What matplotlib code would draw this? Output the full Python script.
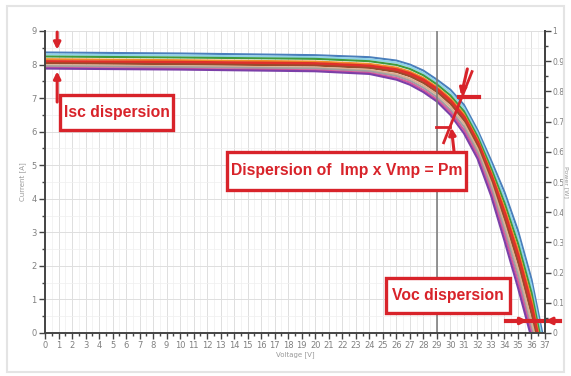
import matplotlib.pyplot as plt
import numpy as np
from matplotlib.ticker import MultipleLocator
from matplotlib.patches import Rectangle

# voltage grid (V) shared by all measured modules
volt = [0, 10, 20, 24, 26, 27, 28, 29, 30, 31, 32, 33, 34, 35, 36]

# current (A) of each module at the grid points
cur_blue   = [8.36, 8.33, 8.28, 8.22, 8.12, 8.00, 7.82, 7.55, 7.25, 6.80, 6.05, 5.15, 4.20, 3.05, 1.60]
cur_cyan   = [8.30, 8.27, 8.22, 8.16, 8.06, 7.94, 7.75, 7.48, 7.17, 6.71, 5.96, 5.03, 4.04, 2.86, 1.40]
cur_green  = [8.24, 8.21, 8.17, 8.10, 7.99, 7.87, 7.68, 7.41, 7.08, 6.61, 5.86, 4.92, 3.88, 2.67, 1.20]
cur_orange = [8.16, 8.13, 8.09, 8.02, 7.91, 7.79, 7.60, 7.33, 6.99, 6.52, 5.77, 4.80, 3.72, 2.48, 1.00]
cur_red    = [8.08, 8.06, 8.02, 7.95, 7.84, 7.72, 7.53, 7.26, 6.91, 6.43, 5.68, 4.69, 3.56, 2.29, 0.78]
cur_brown  = [8.04, 8.01, 7.97, 7.90, 7.78, 7.65, 7.45, 7.18, 6.83, 6.34, 5.59, 4.58, 3.40, 2.10, 0.56]
cur_tan    = [7.98, 7.95, 7.91, 7.84, 7.71, 7.58, 7.38, 7.11, 6.74, 6.25, 5.49, 4.47, 3.24, 1.91, 0.34]
cur_gray   = [7.95, 7.92, 7.88, 7.80, 7.66, 7.52, 7.31, 7.03, 6.65, 6.15, 5.40, 4.35, 3.08, 1.72, 0.12]
cur_pink   = [7.90, 7.87, 7.83, 7.75, 7.60, 7.46, 7.24, 6.96, 6.58, 6.05, 5.30, 4.22, 2.92, 1.53, np.nan]
cur_purple = [7.88, 7.85, 7.80, 7.72, 7.55, 7.40, 7.18, 6.90, 6.50, 5.95, 5.20, 4.10, 2.75, 1.35, np.nan]

currents = [cur_blue, cur_cyan, cur_green, cur_orange, cur_red,
            cur_brown, cur_tan, cur_gray, cur_pink, cur_purple]
# open-circuit voltage of each module (V)
voc = [36.8, 36.7, 36.6, 36.5, 36.4, 36.3, 36.2, 36.1, 36.0, 35.9]
colors = ['#4a7ebb', '#8fd3e8', '#3f9a3c', '#f08c2a', '#e0302a',
          '#9b4a2c', '#ddb090', '#a0a0a0', '#d6579a', '#7b3fa8']

x_ticks = list(range(0, 38))
y_ticks = list(range(0, 10))
p_ticks = [0, 0.1, 0.2, 0.3, 0.4, 0.5, 0.6, 0.7, 0.8, 0.9, 1]
p_labels = ['0', '0.1', '0.2', '0.3', '0.4', '0.5', '0.6', '0.7', '0.8', '0.9', '1']

red = '#d8232a'
tick_col = '#808080'
box_font = ['Liberation Sans', 'DejaVu Sans']
W, H = 571, 376

fig = plt.figure(figsize=(5.71, 3.76), dpi=100)
fig.patch.set_facecolor('white')
ax = fig.add_axes([45 / W, 1 - 333 / H, 500 / W, 302 / H])

ax.set_xlim(0, 37)
ax.set_ylim(0, 9)
ax.set_xticks(x_ticks)
ax.set_yticks(y_ticks)
ax.xaxis.set_minor_locator(MultipleLocator(0.5))
ax.yaxis.set_minor_locator(MultipleLocator(0.5))
ax.grid(True, which='major', color='#dedede', lw=0.7)
ax.grid(True, which='minor', color='#efefef', lw=0.5)
ax.set_axisbelow(True)
ax.spines['top'].set_visible(False)
for s in ['left', 'bottom', 'right']:
    ax.spines[s].set_color('#444444')
    ax.spines[s].set_linewidth(1.4)
ax.tick_params(which='both', colors='#444444', labelcolor=tick_col, labelsize=6, width=1)
ax.tick_params(which='major', length=4, pad=2)
ax.tick_params(which='minor', length=2)
ax.set_xlabel('Voltage [V]', fontsize=5, color='#999999', labelpad=1)
ax.set_ylabel('Current [A]', fontsize=5, color='#999999', labelpad=4)

# measured I-V curves
for cur, vo, c in zip(currents, voc, colors):
    v = np.array(volt + [vo], dtype=float)
    i = np.array(cur + [0.0], dtype=float)
    keep = (v < vo) & ~np.isnan(i)
    keep[-1] = True
    lw = 2.6 if c == '#e0302a' else 1.5
    ax.plot(v[keep], i[keep], color=c, lw=lw, solid_capstyle='round')

# maximum power voltage marker
ax.axvline(29, color='#777777', lw=1.1)

# right power axis
ax2 = ax.twinx()
ax2.set_ylim(0, 1)
ax2.set_yticks(p_ticks)
ax2.set_yticklabels(p_labels)
ax2.yaxis.set_minor_locator(MultipleLocator(0.05))
for s in ['top', 'left', 'bottom']:
    ax2.spines[s].set_visible(False)
ax2.spines['right'].set_color('#444444')
ax2.spines['right'].set_linewidth(1.4)
ax2.tick_params(which='both', colors='#444444', labelcolor=tick_col, labelsize=5.5, width=1)
ax2.tick_params(which='major', length=4, pad=1.5)
ax2.tick_params(which='minor', length=2)
fig.text(566.5 / W, 1 - 182 / H, 'Power [W]', fontsize=4.5, color='#999999',
         rotation=270, ha='center', va='center')

# red annotation boxes (placed in picture pixels)
def red_box(x0, y0, x1, y1, txt):
    fig.patches.append(Rectangle((x0 / W, 1 - y1 / H), (x1 - x0) / W, (y1 - y0) / H,
                                 transform=fig.transFigure, fc='white', ec=red,
                                 lw=2.4, zorder=10))
    fig.text((x0 + x1) / 2 / W, 1 - (y0 + y1) / 2 / H, txt, ha='center', va='center',
             fontsize=11.3, color=red, fontweight='bold', family=box_font, zorder=11)

red_box(60, 95, 173, 130, 'Isc dispersion')
red_box(227, 152, 466, 190, 'Dispersion of  Imp x Vmp = Pm')
red_box(386, 278, 510, 313, 'Voc dispersion')

arrow = dict(arrowstyle='-|>', color=red, lw=2.2, mutation_scale=10)
# Isc spread arrows
ax.annotate('', xy=(0.9, 8.36), xytext=(0.9, 9.05), arrowprops=arrow, annotation_clip=False, zorder=11)
ax.annotate('', xy=(0.9, 7.88), xytext=(0.9, 6.8), arrowprops=arrow, zorder=11)

# Pm spread marks
ax.plot([31.6, 29.5], [7.79, 5.67], color=red, lw=2.0, zorder=11)
ax.plot([30.6, 32.1], [7.04, 7.04], color=red, lw=3.0, zorder=11)
ax.plot([28.9, 30.0], [6.15, 6.15], color=red, lw=2.0, zorder=11)
ax.annotate('', xy=(30.75, 7.0), xytext=(31.3, 7.95), arrowprops=arrow, zorder=11)
ax.annotate('', xy=(30.05, 6.2), xytext=(30.3, 5.3), arrowprops=arrow, zorder=11)

# Voc spread marks
ax.plot([34.1, 38.1], [0.36, 0.36], color=red, lw=3.0, zorder=11, clip_on=False)
ax.annotate('', xy=(35.9, 0.36), xytext=(34.1, 0.36), arrowprops=arrow, zorder=11)
ax.annotate('', xy=(36.8, 0.36), xytext=(38.1, 0.36), arrowprops=arrow, annotation_clip=False, zorder=11)

# faint frame around the picture
fig.patches.append(Rectangle((0.012, 0.01), 0.975, 0.975, transform=fig.transFigure,
                             fill=False, ec='#e4e4e4', lw=1.5))

fig.savefig('out.png', dpi=100)
